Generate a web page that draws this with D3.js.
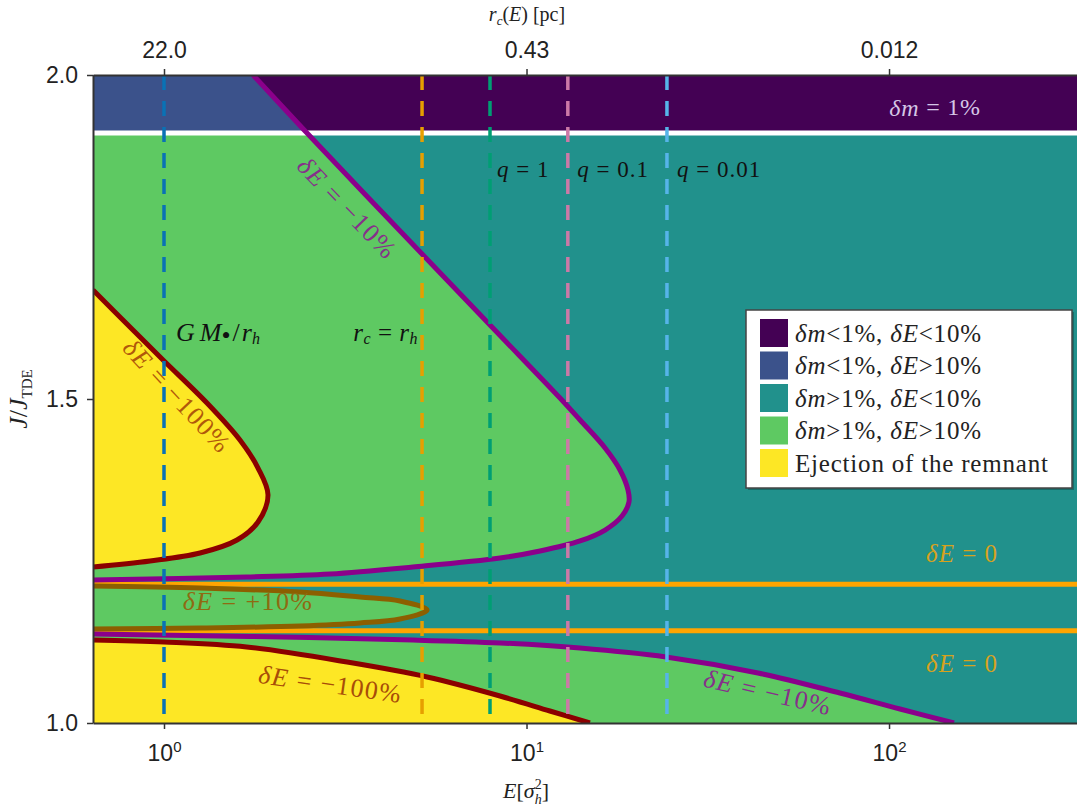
<!DOCTYPE html>
<html>
<head>
<meta charset="utf-8">
<script src="https://cdn.jsdelivr.net/npm/d3@7"></script>
<style>
  body { margin: 0; background: #fff; }
  svg { display: block; }
</style>
</head>
<body>
<div id="chart"></div>
<script>
// axis ranges and ticks
const eDomain = [0.637, 330];
const jDomain = [1.0, 2.0];
const eTicks = [1, 10, 100];
const rcTickLabels = ["22.0", "0.43", "0.012"];
const jTicks = [1.0, 1.5, 2.0];

// horizontal boundaries
const dmOnePercentJ = 1.9105;
const deltaEZeroJ = [1.214, 1.1425];

// dE = -10% contour (upper branch)
const upperMinus10E = [1.76, 2.45, 4.48, 7.93, 12.37, 14.05, 16.47, 18.11, 19.05, 19.17, 18.34, 16.47, 14.05, 10.9, 8.45, 4.86, 2.87, 1.69, 0.637];
const upperMinus10J = [2.0, 1.9136, 1.7593, 1.6142, 1.5015, 1.4676, 1.4244, 1.3904, 1.3596, 1.341, 1.3194, 1.2978, 1.2809, 1.2654, 1.2546, 1.2407, 1.2299, 1.2253, 1.2207];

// dE = -100% contour (upper branch)
const upperMinus100E = [0.637, 0.821, 0.994, 1.314, 1.620, 1.817, 1.936, 1.817, 1.590, 1.257, 0.915, 0.637];
const upperMinus100J = [1.6682, 1.6065, 1.5602, 1.4938, 1.4367, 1.3935, 1.3519, 1.3102, 1.2824, 1.2623, 1.25, 1.2407];

// dE = +10% loop
const plus10E = [0.637, 1.257, 2.373, 3.473, 4.478, 5.32, 4.478, 3.473, 2.373, 1.257, 0.637];
const plus10J = [1.2114, 1.2083, 1.2022, 1.1944, 1.1883, 1.1744, 1.1605, 1.1543, 1.1497, 1.1466, 1.1451];

// dE = -10% contour (lower branch)
const lowerMinus10E = [0.637, 1.727, 4.86, 8.45, 14.05, 24.26, 43.5, 73.2, 107.2, 151.1];
const lowerMinus10J = [1.1373, 1.1335, 1.1281, 1.1235, 1.1157, 1.1019, 1.0772, 1.0463, 1.0216, 1.0];

// dE = -100% contour (lower branch)
const lowerMinus100E = [0.637, 1.0, 1.69, 3.20, 5.32, 8.45, 11.6, 14.96];
const lowerMinus100J = [1.128, 1.125, 1.1173, 1.094, 1.071, 1.0417, 1.0185, 1.0];

// vertical reference energies
const refLineE = [1.0, 5.15, 7.93, 13.0, 24.4];
const refLineColors = ["#0a72b5", "#e69f00", "#009e73", "#cc79a7", "#56b4e9"];

// legend
const legendColors = ["#440154", "#3b528b", "#21918c", "#5ec962", "#fde725"];
const legendLabels = [
  '<tspan font-style="italic">δm</tspan>&lt;1%, <tspan font-style="italic">δE</tspan>&lt;10%',
  '<tspan font-style="italic">δm</tspan>&lt;1%, <tspan font-style="italic">δE</tspan>&gt;10%',
  '<tspan font-style="italic">δm</tspan>&gt;1%, <tspan font-style="italic">δE</tspan>&lt;10%',
  '<tspan font-style="italic">δm</tspan>&gt;1%, <tspan font-style="italic">δE</tspan>&gt;10%',
  'Ejection of the remnant'
];

const width = 1077, height = 807;
const margin = {top: 75, right: 0, bottom: 84, left: 93};
const serif = '"Liberation Serif", "DejaVu Serif", serif';
const sans = '"Liberation Sans", Arial, sans-serif';

const svg = d3.select("#chart").append("svg")
  .attr("width", width)
  .attr("height", height);

const x = d3.scaleLog().domain(eDomain).range([margin.left, width - margin.right]);
const y = d3.scaleLinear().domain(jDomain).range([height - margin.bottom, margin.top]);

const zip = (es, js) => es.map((e, i) => [e, js[i]]);
const line = d3.line()
  .x(d => x(d[0]))
  .y(d => y(d[1]))
  .curve(d3.curveCatmullRom.alpha(0.5));

const defs = svg.append("defs");
const plotW = x.range()[1] - x.range()[0];
defs.append("clipPath").attr("id", "plot")
  .append("rect")
  .attr("x", x.range()[0]).attr("y", y(2))
  .attr("width", plotW).attr("height", y(1) - y(2));
defs.append("clipPath").attr("id", "band")
  .append("rect")
  .attr("x", x.range()[0]).attr("y", y(2))
  .attr("width", plotW).attr("height", y(dmOnePercentJ) - y(2));
defs.append("clipPath").attr("id", "below")
  .append("rect")
  .attr("x", x.range()[0]).attr("y", y(dmOnePercentJ))
  .attr("width", plotW).attr("height", y(1) - y(dmOnePercentJ));

const plot = svg.append("g").attr("clip-path", "url(#plot)");

// background: dm > 1%, dE < 10%
plot.append("rect")
  .attr("x", x.range()[0]).attr("y", y(2))
  .attr("width", plotW).attr("height", y(1) - y(2))
  .attr("fill", "#21918c");

// top band: dm < 1%
plot.append("rect")
  .attr("x", x.range()[0]).attr("y", y(2))
  .attr("width", plotW).attr("height", y(dmOnePercentJ) - y(2))
  .attr("fill", "#440154");

const upper10 = zip(upperMinus10E, upperMinus10J);
const upper10Area = line(upper10) + `L${x(eDomain[0])},${y(2)}Z`;
plot.append("path").attr("d", upper10Area).attr("fill", "#3b528b").attr("clip-path", "url(#band)");
plot.append("path").attr("d", upper10Area).attr("fill", "#5ec962").attr("clip-path", "url(#below)");

const lower10 = zip(lowerMinus10E, lowerMinus10J);
plot.append("path")
  .attr("d", line(lower10) + `L${x(eDomain[0])},${y(1)}Z`)
  .attr("fill", "#5ec962");

const loop10 = zip(plus10E, plus10J);
plot.append("path").attr("d", line(loop10) + "Z").attr("fill", "#5ec962");

const upper100 = zip(upperMinus100E, upperMinus100J);
plot.append("path").attr("d", line(upper100) + "Z").attr("fill", "#fde725");

const lower100 = zip(lowerMinus100E, lowerMinus100J);
plot.append("path")
  .attr("d", line(lower100) + `L${x(eDomain[0])},${y(1)}Z`)
  .attr("fill", "#fde725");

// dm = 1% boundary
plot.append("line")
  .attr("x1", x.range()[0]).attr("x2", x.range()[1])
  .attr("y1", y(dmOnePercentJ)).attr("y2", y(dmOnePercentJ))
  .attr("stroke", "#fff").attr("stroke-width", 5);

// dE = 0
plot.selectAll(".zero").data(deltaEZeroJ).enter().append("line")
  .attr("x1", x.range()[0]).attr("x2", x.range()[1])
  .attr("y1", d => y(d)).attr("y2", d => y(d))
  .attr("stroke", "#ffa500").attr("stroke-width", 5);

plot.append("path").attr("d", line(loop10)).attr("fill", "none")
  .attr("stroke", "#8c5f00").attr("stroke-width", 5);

[upper10, lower10].forEach(pts => {
  plot.append("path").attr("d", line(pts)).attr("fill", "none")
    .attr("stroke", "#8b008b").attr("stroke-width", 5);
});
[upper100, lower100].forEach(pts => {
  plot.append("path").attr("d", line(pts)).attr("fill", "none")
    .attr("stroke", "#8b0000").attr("stroke-width", 5);
});

// vertical reference lines
plot.selectAll(".ref").data(refLineE).enter().append("line")
  .attr("x1", d => x(d)).attr("x2", d => x(d))
  .attr("y1", y(2)).attr("y2", y(1))
  .attr("stroke", (d, i) => refLineColors[i])
  .attr("stroke-width", 3.5)
  .attr("stroke-dasharray", "15,11");

// labels
function label(g, e, j, html, opts) {
  return g.append("text")
    .attr("transform", `translate(${x(e)},${y(j)}) rotate(${opts.rotate || 0})`)
    .attr("text-anchor", opts.anchor || "middle")
    .attr("dominant-baseline", "middle")
    .style("font-family", serif)
    .style("font-size", (opts.size || 24) + "px")
    .style("letter-spacing", (opts.ls || 0) + "px")
    .attr("fill", opts.color || "#111")
    .html(html);
}
const it = s => `<tspan font-style="italic">${s}</tspan>`;
const sub = s => `<tspan font-size="16" dy="5" font-style="italic">${s}</tspan>`;

label(plot, 134, 1.946, `${it("δm")} = 1%`, {color: "#d4c6e6", size: 24, ls: 0.8});
label(plot, 8.29, 1.850, `${it("q")} = 1`, {anchor: "start", size: 23, ls: 1});
label(plot, 13.8, 1.850, `${it("q")} = 0.1`, {anchor: "start", size: 23, ls: 1});
label(plot, 26.0, 1.850, `${it("q")} = 0.01`, {anchor: "start", size: 23, ls: 1});
label(plot, 1.079, 1.599,
  `${it("G")}<tspan font-style="italic" dx="5">M</tspan><tspan font-size="26" dy="3">•</tspan><tspan dy="-3" dx="2">/</tspan><tspan font-style="italic" dx="2">r</tspan>${sub("h")}`,
  {anchor: "start", size: 26});
label(plot, 5.02, 1.599,
  `${it("r")}${sub("c")}<tspan dy="-5"> = </tspan>${it("r")}${sub("h")}`,
  {anchor: "end", size: 25, ls: 0.5});
label(plot, 159, 1.258, `${it("δE")} = 0`, {color: "#d6a21e", size: 25, ls: 1});
label(plot, 159, 1.088, `${it("δE")} = 0`, {color: "#d6a21e", size: 25, ls: 1});
label(plot, 1.706, 1.1836, `${it("δE")} = +10%`, {color: "#8f6a12", size: 26, ls: 1.4});
label(plot, 1.072, 1.5015, `${it("δE")} = −100%`, {color: "#b0580a", rotate: 47, size: 26, ls: 1.4});
label(plot, 2.87, 1.0556, `${it("δE")} = −100%`, {color: "#a84d08", rotate: 8, size: 26, ls: 1.4});
label(plot, 3.16, 1.7917, `${it("δE")} = −10%`, {color: "#86308a", rotate: 46, size: 26, ls: 1.4});
label(plot, 46.1, 1.0432, `${it("δE")} = −10%`, {color: "#86308a", rotate: 13, size: 26, ls: 1.4});

// axes
function styleAxis(g) {
  g.select(".domain").attr("stroke", "#333").attr("stroke-width", 2);
  g.selectAll(".tick line").attr("stroke", "#333").attr("stroke-width", 1.5);
  g.selectAll(".tick text").style("font-family", sans).style("font-size", "23px").attr("fill", "#222");
}

const gBottom = svg.append("g")
  .attr("transform", `translate(0,${y(1)})`)
  .call(d3.axisBottom(x).tickValues(eTicks).tickSize(6).tickSizeOuter(0).tickPadding(16).tickFormat(d => "10"));
styleAxis(gBottom);
gBottom.selectAll(".tick text")
  .html(d => `10<tspan font-size="15" dy="-9">${Math.round(Math.log10(d))}</tspan>`);

const gTop = svg.append("g")
  .attr("transform", `translate(0,${y(2)})`)
  .call(d3.axisTop(x).tickValues(eTicks).tickSize(6).tickSizeOuter(0).tickPadding(11)
    .tickFormat((d, i) => rcTickLabels[i]));
styleAxis(gTop);

const gLeft = svg.append("g")
  .attr("transform", `translate(${x.range()[0]},0)`)
  .call(d3.axisLeft(y).tickValues(jTicks).tickSize(6).tickSizeOuter(0).tickPadding(9)
    .tickFormat(d3.format(".1f")));
styleAxis(gLeft);

// axis titles
svg.append("text")
  .attr("x", 527).attr("y", 21)
  .attr("text-anchor", "middle")
  .style("font-family", serif).style("font-size", "20px").attr("fill", "#222")
  .html(`${it("r")}<tspan font-size="13" dy="4" font-style="italic">c</tspan><tspan dy="-4">(</tspan>${it("E")}) [pc]`);

svg.append("text")
  .attr("x", 526).attr("y", 798)
  .attr("text-anchor", "middle")
  .style("font-family", serif).style("font-size", "22px").attr("fill", "#222")
  .html(`${it("E")}[${it("σ")}<tspan font-size="14" dy="-9">2</tspan><tspan font-size="14" font-style="italic" dx="-7" dy="15">h</tspan><tspan dy="-6">]</tspan>`);

svg.append("text")
  .attr("transform", `translate(27,${y(1.5)}) rotate(-90)`)
  .attr("text-anchor", "middle")
  .style("font-family", serif).style("font-size", "26px").attr("fill", "#222")
  .html(`${it("J")}/${it("J")}<tspan font-size="15" dy="5">TDE</tspan>`);

// legend
const legend = svg.append("g").attr("transform", "translate(746,310)");
legend.append("rect")
  .attr("x", 2).attr("y", 2).attr("width", 326).attr("height", 178)
  .attr("fill", "#000").attr("opacity", 0.25);
legend.append("rect")
  .attr("width", 326).attr("height", 178)
  .attr("fill", "#fff").attr("stroke", "#444").attr("stroke-width", 1.5);
const rows = legend.selectAll(".row").data(legendLabels).enter().append("g")
  .attr("transform", (d, i) => `translate(14,${23 + i * 32.5})`);
rows.append("rect")
  .attr("x", 0).attr("y", -14).attr("width", 28).attr("height", 28)
  .attr("fill", (d, i) => legendColors[i]);
rows.append("text")
  .attr("x", 35).attr("dy", "0.35em")
  .style("font-family", serif).style("font-size", "25px")
  .style("letter-spacing", "0.8px").attr("fill", "#222")
  .html(d => d);
</script>
</body>
</html>
